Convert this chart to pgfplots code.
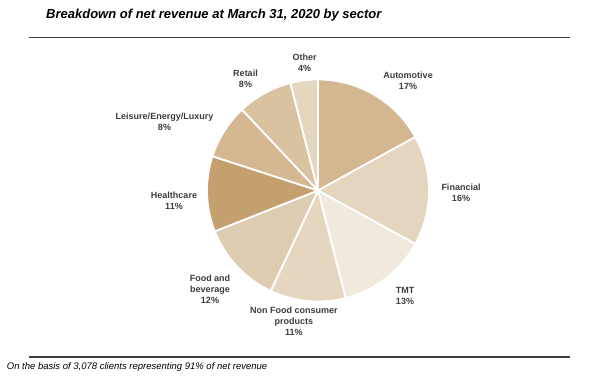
\documentclass[border=0pt]{standalone}
\usepackage{pgfplots}
\usepackage{pgfplotstable}
\pgfplotsset{compat=1.18}
\usepackage{fontspec}
\setmainfont{Liberation Sans}
\definecolor{cAuto}{RGB}{211,183,144}
\definecolor{cFin}{RGB}{228,213,190}
\definecolor{cTMT}{RGB}{241,233,222}
\definecolor{cNF}{RGB}{229,214,192}
\definecolor{cFB}{RGB}{221,204,178}
\definecolor{cHC}{RGB}{196,160,110}
\definecolor{cLEL}{RGB}{213,184,145}
\definecolor{cRet}{RGB}{217,194,160}
\definecolor{cOth}{RGB}{229,214,192}
\definecolor{lbl}{RGB}{60,60,60}
\definecolor{rule}{RGB}{64,64,64}

\pgfplotstableread{
sector value color
Automotive 17 cAuto
Financial 16 cFin
TMT 13 cTMT
NonFood 11 cNF
FoodBeverage 12 cFB
Healthcare 11 cHC
Leisure 8 cLEL
Retail 8 cRet
Other 4 cOth
}\sectors

\begin{document}
\begin{tikzpicture}
\begin{axis}[x=1pt,y=1pt,xmin=0,xmax=589,ymin=0,ymax=387,hide axis,clip=false]
\path (axis cs:0,0) rectangle (axis cs:589,387);
\def\cum{0}
\pgfplotsforeachungrouped \i in {0,...,8}{%
  \pgfplotstablegetelem{\i}{value}\of\sectors
  \let\sectval\pgfplotsretval
  \pgfplotstablegetelem{\i}{color}\of\sectors
  \let\sectcol\pgfplotsretval
  \pgfmathsetmacro\angA{90-3.6*\cum}%
  \pgfmathsetmacro\angB{90-3.6*(\cum+\sectval)}%
  \edef\temp{\noexpand\addplot[fill=\sectcol,draw=white,line width=1.8pt,line join=round,domain=\angB:\angA,samples=60] ({318+111*cos(x)},{196.5+111*sin(x)}) -- (axis cs:318,196.5) -- cycle;}%
  \temp
  \pgfmathsetmacro\cum{\cum+\sectval}%
}
\tikzset{lab/.style={font=\bfseries\fontsize{9}{11}\selectfont, text=lbl, align=center, inner sep=0pt}}
\node[lab] at (axis cs:304.7,324.2) {Other\\4\%};
\node[lab] at (axis cs:408,306.7) {Automotive\\17\%};
\node[lab] at (axis cs:461,194.2) {Financial\\16\%};
\node[lab] at (axis cs:405,90.7) {TMT\\13\%};
\node[lab] at (axis cs:293.8,66) {Non Food consumer\\products\\11\%};
\node[lab] at (axis cs:210,97.3) {Food and\\beverage\\12\%};
\node[lab] at (axis cs:174,186.5) {Healthcare\\11\%};
\node[lab] at (axis cs:164.5,265.3) {Leisure/Energy/Luxury\\8\%};
\node[lab] at (axis cs:245.5,308) {Retail\\8\%};
\node[anchor=west,inner sep=0pt,font=\bfseries\itshape\fontsize{13}{15}\selectfont] at (axis cs:46,372) {Breakdown of net revenue at March 31, 2020 by sector};
\draw[rule,line width=1.2pt] (axis cs:29,349.5) -- (axis cs:570,349.5);
\draw[rule,line width=1.2pt] (axis cs:29,30) -- (axis cs:570,30);
\node[anchor=west,inner sep=0pt,font=\itshape\fontsize{9.5}{11}\selectfont] at (axis cs:6.7,20) {On the basis of 3,078 clients representing 91\% of net revenue};
\end{axis}
\end{tikzpicture}
\end{document}
